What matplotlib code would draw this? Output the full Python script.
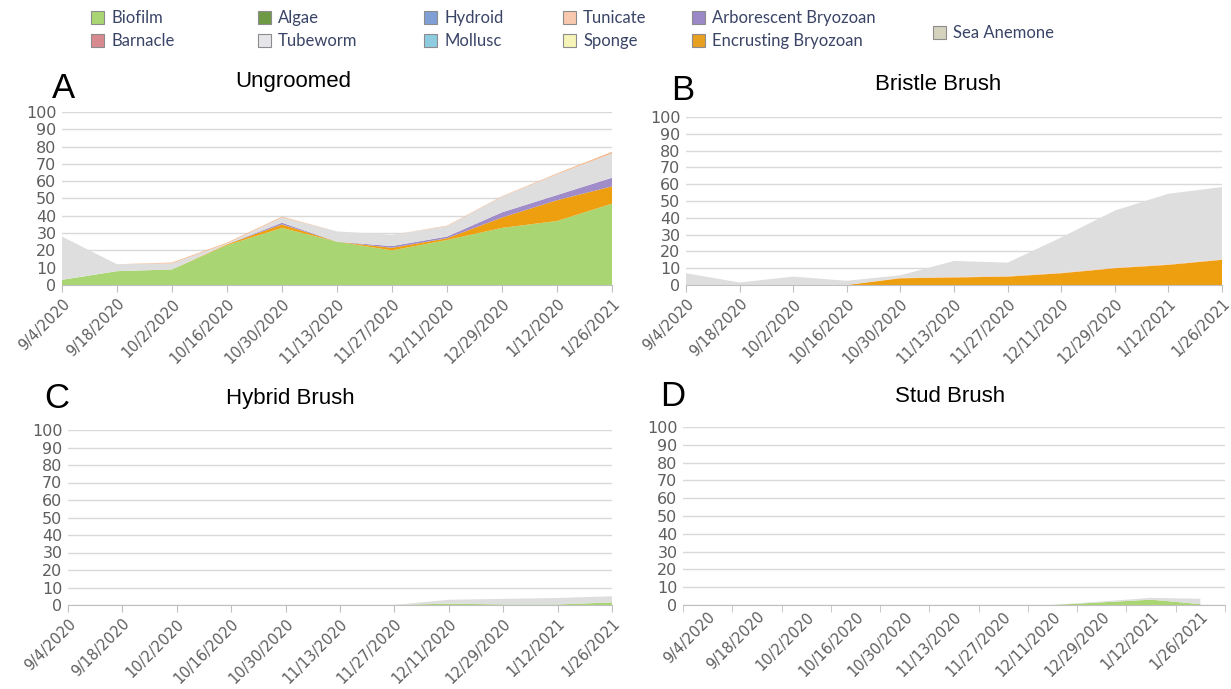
import matplotlib
matplotlib.use("Agg")
import matplotlib.pyplot as plt
from matplotlib.patches import Patch
import numpy as np

# dates on the x axis (same for all four panels)
dates = ["9/4/2020", "9/18/2020", "10/2/2020", "10/16/2020", "10/30/2020",
         "11/13/2020", "11/27/2020", "12/11/2020", "12/29/2020", "1/12/2021", "1/26/2021"]
dates_ungroomed = dates[:9] + ["1/12/2020", "1/26/2021"]

# percent cover
ung_biofilm = [3, 8, 9, 23, 33, 25, 20, 26, 33, 37, 47]
ung_encrusting = [0, 0, 0, 0.5, 2, 0, 1.5, 1, 6, 12, 10]
ung_arborescent = [0, 0, 0, 0, 1, 0, 1, 1, 3, 3, 5]
ung_tubeworm = [25, 4, 3.5, 0.5, 3, 6, 6.5, 6, 9, 12, 14]
ung_tunicate = [0, 0, 0.5, 0.5, 0.5, 0, 0, 0.3, 0.3, 0.5, 1]

bri_encrusting = [0, 0, 0, 0, 4, 4.5, 5, 7, 10, 12, 15]
bri_tubeworm = [7, 1.5, 5, 2.5, 1.5, 9.5, 8, 21, 34, 42, 43]
bri_tunicate = [0, 0, 0, 0, 0.3, 0.3, 0.3, 0.3, 0.3, 0.3, 0.3]

hyb_biofilm = [0, 0, 0, 0, 0, 0, 0, 0.8, 0.3, 0.3, 1.5]
hyb_tubeworm = [0, 0, 0, 0, 0, 0, 0, 2.2, 3.2, 3.7, 3.5]

stud_biofilm = [0, 0, 0, 0, 0, 0, 0, 0, 1.5, 3, 0.5]
stud_tubeworm = [0, 0, 0, 0, 0, 0, 0, 0, 0.5, 1, 3]

legend_names = ["Biofilm", "Barnacle", "Algae", "Tubeworm", "Hydroid", "Mollusc",
                "Tunicate", "Sponge", "Arborescent Bryozoan", "Encrusting Bryozoan",
                "Sea Anemone"]
legend_colors = ["#a9d672", "#d98a90", "#6f9a45", "#e6e6ea", "#7f9fd6", "#8ccbe0",
                 "#f8c9ae", "#f6f4b8", "#9b88c6", "#e8a020", "#d5d2be"]
col = dict(zip(legend_names, legend_colors))
fill_col = {"Biofilm": "#a9d672", "Encrusting Bryozoan": "#ee9f10",
            "Arborescent Bryozoan": "#a08cc8", "Tubeworm": "#dedede",
            "Tunicate": "#f6b98e"}

fig = plt.figure(figsize=(12.31, 6.89), dpi=100)
W, H = 1231, 689

def box(x0, x1, ytop, ybot):
    return [x0 / W, 1 - ybot / H, (x1 - x0) / W, (ybot - ytop) / H]

panels = [
    ("A", "Ungroomed", box(62, 612, 112, 285), dates_ungroomed, False,
     [("Biofilm", ung_biofilm), ("Encrusting Bryozoan", ung_encrusting),
      ("Arborescent Bryozoan", ung_arborescent), ("Tubeworm", ung_tubeworm),
      ("Tunicate", ung_tunicate)], (63, 88), (293, 82)),
    ("B", "Bristle Brush", box(686, 1222, 117, 285), dates, False,
     [("Encrusting Bryozoan", bri_encrusting), ("Tunicate", bri_tunicate),
      ("Tubeworm", bri_tubeworm)], (683, 91), (938, 85)),
    ("C", "Hybrid Brush", box(68, 612, 430, 605), dates, False,
     [("Biofilm", hyb_biofilm), ("Tubeworm", hyb_tubeworm)], (57, 398), (290, 398)),
    ("D", "Stud Brush", box(683, 1225, 427, 605), dates, True,
     [("Biofilm", stud_biofilm), ("Tubeworm", stud_tubeworm)], (673, 397), (950, 397)),
]

for letter, title, rect, labels, between, layers, lpos, tpos in panels:
    ax = fig.add_axes(rect)
    x = np.arange(len(labels))
    ys = [v for _, v in layers]
    ax.stackplot(x, *ys, colors=[fill_col[n] for n, _ in layers], linewidth=0)
    ax.set_ylim(0, 100)
    ax.set_yticks(range(0, 101, 10))
    ax.grid(axis="y", color="#d9d9d9", linewidth=1)
    ax.set_axisbelow(True)
    for s in ["top", "right", "left"]:
        ax.spines[s].set_visible(False)
    ax.spines["bottom"].set_color("#bfbfbf")
    ax.set_xticks(x)
    ax.set_xticklabels(labels, rotation=45, ha="right", rotation_mode="anchor")
    if between:
        ax.set_xlim(-0.5, len(labels) - 0.5)
        ax.set_xticks(np.arange(len(labels) + 1) - 0.5, minor=True)
        ax.tick_params(axis="x", which="major", length=0)
        ax.tick_params(axis="x", which="minor", length=5, color="#bfbfbf")
    else:
        ax.set_xlim(0, len(labels) - 1)
        ax.tick_params(axis="x", length=5, color="#bfbfbf")
    ax.tick_params(axis="x", labelsize=10.5, labelcolor="#5e5e5e", pad=3)
    ax.tick_params(axis="y", length=0, labelsize=11.5, labelcolor="#5e5e5e", pad=4)
    fig.text(lpos[0] / W, 1 - lpos[1] / H, letter, fontsize=25,
             family="Liberation Sans", ha="center", va="center")
    fig.text(tpos[0] / W, 1 - tpos[1] / H, title, fontsize=16,
             family="Liberation Sans", ha="center", va="center")

# legend, column by column like the original
columns = [(91, ["Biofilm", "Barnacle"]), (258, ["Algae", "Tubeworm"]),
           (424, ["Hydroid", "Mollusc"]), (563, ["Tunicate", "Sponge"]),
           (692, ["Arborescent Bryozoan", "Encrusting Bryozoan"]),
           (933, ["Sea Anemone"])]
for xpos, names in columns:
    handles = [Patch(facecolor=col[n], edgecolor="#8c8c8c", linewidth=0.8) for n in names]
    ytop = 10 if len(names) == 2 else 25
    fig.legend(handles, names, loc="upper left", bbox_to_anchor=(xpos / W, 1 - ytop / H),
               frameon=False, borderpad=0, borderaxespad=0, handlelength=0.75,
               handleheight=0.85, handletextpad=0.45, labelspacing=0.42,
               prop={"family": "Lato", "size": 12}, labelcolor="#3a4466")

fig.savefig("out.png", dpi=100)
